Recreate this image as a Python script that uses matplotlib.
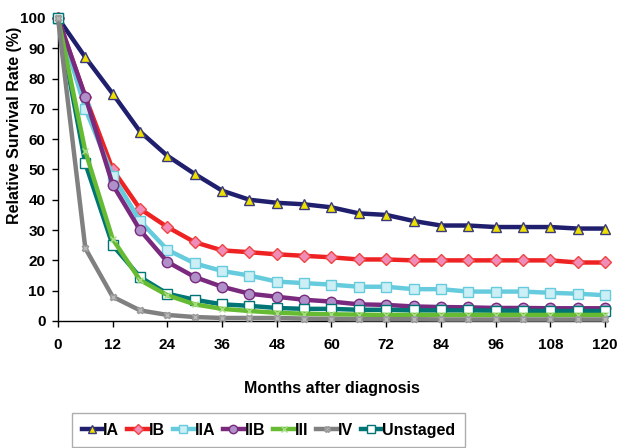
import matplotlib
matplotlib.use("Agg")
import matplotlib.pyplot as plt
import numpy as np

plt.rcParams['font.family'] = ['Liberation Sans', 'DejaVu Sans']
plt.rcParams['font.weight'] = 'bold'

months = list(range(0, 121, 6))
xticks = list(range(0, 121, 12))
yticks = list(range(0, 101, 10))

IA = [100, 87, 75, 62.5, 54.5, 48.5, 43, 40, 39, 38.5, 37.5, 35.5, 35, 33, 31.5, 31.5, 31, 31, 31, 30.5, 30.5]
IB = [100, 74, 50, 37, 31, 26, 23.3, 22.7, 22, 21.5, 21, 20.3, 20.3, 20, 20, 20, 20, 20, 20, 19.3, 19.3]
IIA = [100, 70, 48, 33, 23.5, 19, 16.5, 15, 13, 12.5, 12, 11.3, 11.3, 10.5, 10.5, 9.7, 9.7, 9.7, 9.3, 9, 8.5]
IIB = [100, 74, 45, 30, 19.5, 14.5, 11.3, 9, 8, 7, 6.4, 5.5, 5.3, 4.8, 4.6, 4.5, 4.3, 4.3, 4.2, 4.2, 4.2]
III = [100, 56, 27, 13.5, 8.5, 5.5, 4, 3.3, 2.7, 2.4, 2.2, 2.1, 2, 2, 2, 2, 2, 2, 2, 2, 2]
IV = [100, 24, 8, 3.5, 2, 1.3, 1, 1, 1, 0.8, 0.7, 0.6, 0.6, 0.6, 0.5, 0.5, 0.5, 0.5, 0.5, 0.5, 0.5]
Unstaged = [100, 52, 25, 14.5, 9, 7, 5.5, 5, 4.3, 4, 4, 3.7, 3.7, 3.5, 3.5, 3.5, 3.4, 3.4, 3.3, 3.3, 3.3]

series = [
    ("IA", IA, '#1F1F6E', '^', '#EEE000', '#3A3A7A', 7.5),
    ("IB", IB, '#EE2222', 'D', '#F08CB8', '#EE4444', 6),
    ("IIA", IIA, '#66CCDD', 's', '#CCEEF5', '#66CCDD', 7.5),
    ("IIB", IIB, '#7A2A7E', 'o', '#B090C8', '#7A2A7E', 7.5),
    ("III", III, '#66BB33', 'x', '#66BB33', '#AADD88', 5),
    ("IV", IV, '#808080', 'X', '#BBBBBB', '#999999', 5),
    ("Unstaged", Unstaged, '#007575', 's', 'white', '#007575', 7.5),
]

fig = plt.figure(figsize=(6.22, 4.48), dpi=100)
ax = fig.add_axes([0.0932, 0.2835, 0.8795, 0.6765])

order = ["IV", "III", "Unstaged", "IIB", "IIA", "IB", "IA"]
handles = {}
for name, vals, lc, m, mfc, mec, ms in series:
    z = 10 - order.index(name)
    h, = ax.plot(months, vals, color=lc, lw=3.2, marker=m, markersize=ms,
                 markerfacecolor=mfc, markeredgecolor=mec, markeredgewidth=1,
                 label=name, zorder=z, clip_on=False)
    handles[name] = h

ax.set_xlim(0, 120)
ax.set_ylim(0, 100)
ax.set_xticks(xticks)
ax.set_yticks(yticks)
ax.tick_params(axis='both', labelsize=11, length=4, width=1, direction='out')
for t in ax.get_xticklabels() + ax.get_yticklabels():
    t.set_fontweight('bold')
ax.spines['top'].set_visible(False)
ax.spines['right'].set_visible(False)
ax.spines['left'].set_linewidth(1)
ax.spines['bottom'].set_linewidth(1)
ax.tick_params(axis='x', pad=8)
ax.tick_params(axis='y', pad=5)
ax.set_ylabel("Relative Survival Rate (%)", fontsize=11.5, fontweight='bold')
ax.yaxis.set_label_coords(-0.066, 0.647)
ax.set_xlabel("Months after diagnosis", fontsize=11.5, fontweight='bold', labelpad=21)

names = [s[0] for s in series]
leg = fig.legend([handles[n] for n in names], names, loc='upper left',
                 bbox_to_anchor=(0.116, 0.078), borderaxespad=0, ncol=7, frameon=True,
                 fancybox=False, edgecolor='#999999', handlelength=1.3,
                 handletextpad=0.05, columnspacing=0.5, borderpad=0.6,
                 markerscale=0.8, prop={'size': 11.5, 'weight': 'bold'})
leg.get_frame().set_linewidth(1)

fig.savefig("out.png", dpi=100)
